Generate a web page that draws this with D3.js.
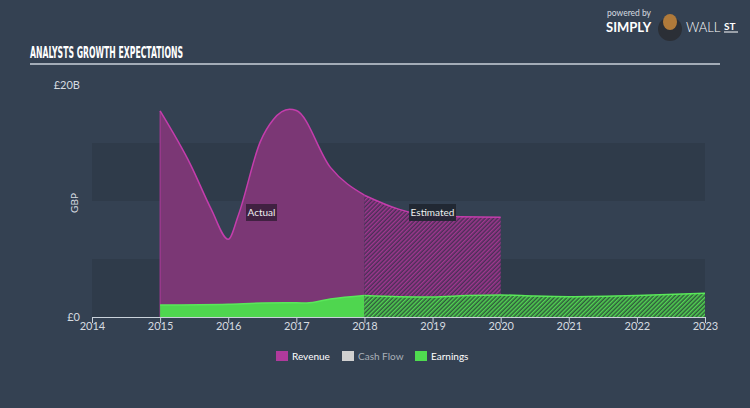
<!DOCTYPE html>
<html><head><meta charset="utf-8">
<script src="https://cdn.jsdelivr.net/npm/d3@7"></script>
<style>
html,body{margin:0;padding:0;background:#344152;}
svg{display:block;}
</style></head>
<body>
<svg id="c" width="750" height="408"></svg>
<script>
// ---- data ----
const title = "ANALYSTS GROWTH EXPECTATIONS";
const xTicks = [2014, 2015, 2016, 2017, 2018, 2019, 2020, 2021, 2022, 2023];
const yTickLabels = ["£0", "£20B"];
const yTickValues = [0, 20];
const revenueActualYears = [2015, 2015.45, 2015.75, 2016, 2016.15, 2016.47, 2016.66, 2016.9, 2017, 2017.5, 2018];
const revenueActualVals  = [17.76, 13.1, 9.3, 6.7, 8.8, 15.1, 17.0, 17.9, 17.8, 12.9, 10.5];
const revenueEstYears = [2018, 2018.5, 2019, 2020];
const revenueEstVals  = [10.5, 9.3, 8.7, 8.6];
const earningsActualYears = [2015, 2016, 2016.5, 2017, 2017.15, 2017.5, 2018];
const earningsActualVals  = [1.03, 1.1, 1.2, 1.22, 1.2, 1.55, 1.85];
const earningsEstYears = [2018, 2018.5, 2019, 2019.5, 2020, 2020.5, 2021, 2022, 2023];
const earningsEstVals  = [1.85, 1.75, 1.72, 1.85, 1.9, 1.8, 1.75, 1.85, 2.05];
const legendItems = ["Revenue", "Cash Flow", "Earnings"];
const bandValues = [5, 15];

const svg = d3.select("#c");
const x = d3.scaleLinear().domain([2014, 2023]).range([92, 705]);
const y = d3.scaleLinear().domain([0, 20]).range([317, 85]);

// defs: hatch patterns
const defs = svg.append("defs");
function hatch(id, bg, line){
  const p = defs.append("pattern").attr("id", id).attr("patternUnits","userSpaceOnUse")
    .attr("width", 3).attr("height", 3).attr("patternTransform","rotate(45)");
  p.append("rect").attr("width",3).attr("height",3).attr("fill",bg);
  p.append("rect").attr("width",1.5).attr("height",3).attr("fill",line);
}
hatch("hRev", "#4a2f57", "#a0378f");
hatch("hEarn", "#2f5a3c", "#52d452");

// background
svg.append("rect").attr("width",750).attr("height",408).attr("fill","#344152");

// bands
svg.selectAll("rect.band").data(bandValues).enter().append("rect")
  .attr("class","band")
  .attr("x", x(2014)).attr("width", x(2023)-x(2014))
  .attr("y", d => y(d)).attr("height", y(0)-y(5))
  .attr("fill", "#2f3b4a");

// title
svg.append("text").attr("x",30).attr("y",58).text(title)
  .attr("fill","#ffffff").attr("font-family","'DejaVu Sans Condensed','DejaVu Sans'")
  .attr("font-weight","bold").attr("font-size",15)
  .attr("textLength",153).attr("lengthAdjust","spacingAndGlyphs");
svg.append("line").attr("x1",30).attr("x2",720).attr("y1",64).attr("y2",64)
  .attr("stroke","#c9d1da").attr("stroke-width",1.5);

// logo
const logo = svg.append("g");
logo.append("text").attr("x",607).attr("y",16).text("powered by")
  .attr("fill","#d6dbe0").attr("font-family","Lato, sans-serif").attr("font-size",8.5);
logo.append("text").attr("x",606).attr("y",32).text("SIMPLY")
  .attr("fill","#ffffff").attr("font-family","Lato, sans-serif").attr("font-weight","bold").attr("font-size",13);
logo.append("circle").attr("cx",670).attr("cy",29).attr("r",12).attr("fill","#2b2f36");
logo.append("ellipse").attr("cx",670).attr("cy",22).attr("rx",7).attr("ry",8).attr("fill","#b07a3a");
logo.append("text").attr("x",686).attr("y",32).text("WALL")
  .attr("fill","#ffffff").attr("font-family","Lato, sans-serif").attr("font-weight",300).attr("font-size",13);
logo.append("text").attr("x",724).attr("y",30).text("ST")
  .attr("fill","#ffffff").attr("font-family","Lato, sans-serif").attr("font-weight","bold").attr("font-size",10);
logo.append("line").attr("x1",724).attr("x2",738).attr("y1",32).attr("y2",32).attr("stroke","#fff").attr("stroke-width",1);

// series
const ptsRA = revenueActualYears.map((t,i)=>[t, revenueActualVals[i]]);
const ptsRE = revenueEstYears.map((t,i)=>[t, revenueEstVals[i]]);
const ptsEA = earningsActualYears.map((t,i)=>[t, earningsActualVals[i]]);
const ptsEE = earningsEstYears.map((t,i)=>[t, earningsEstVals[i]]);

const area = d3.area().x(d=>x(d[0])).y0(y(0)).y1(d=>y(d[1])).curve(d3.curveMonotoneX);
const line = d3.line().x(d=>x(d[0])).y(d=>y(d[1])).curve(d3.curveMonotoneX);

svg.append("path").attr("d", area(ptsRA)).attr("fill","#7b3775");
svg.append("path").attr("d", area(ptsRE)).attr("fill","url(#hRev)");
svg.append("line").attr("x1",x(2015)).attr("x2",x(2015)).attr("y1",y(0)).attr("y2",y(revenueActualVals[0]))
  .attr("stroke","#b03a9c").attr("stroke-width",1);
svg.append("path").attr("d", line(ptsRA)).attr("fill","none").attr("stroke","#c43dac").attr("stroke-width",1.5);
svg.append("path").attr("d", line(ptsRE)).attr("fill","none").attr("stroke","#c43dac").attr("stroke-width",1.5);

svg.append("path").attr("d", area(ptsEA)).attr("fill","#4fd64f");
svg.append("path").attr("d", area(ptsEE)).attr("fill","url(#hEarn)");
svg.append("path").attr("d", line(ptsEA)).attr("fill","none").attr("stroke","#5ae85a").attr("stroke-width",1.5);
svg.append("path").attr("d", line(ptsEE)).attr("fill","none").attr("stroke","#5ae85a").attr("stroke-width",1.5);

// labels Actual / Estimated
function tag(cx, txt, w, bg){
  const g = svg.append("g");
  g.append("rect").attr("x", cx - w/2).attr("y",204).attr("width",w).attr("height",17)
    .attr("fill",bg).attr("opacity",0.9);
  g.append("text").attr("x",cx).attr("y",216).attr("text-anchor","middle").text(txt)
    .attr("fill","#f0f0f0").attr("font-family","Lato, sans-serif").attr("font-size",10);
}
tag(261.5, "Actual", 31, "#3a1f3c");
tag(432.5, "Estimated", 47, "#1f2630");

// x axis
const xAxis = d3.axisBottom(x).tickValues(xTicks).tickFormat(d3.format("d")).tickSize(6).tickSizeOuter(0);
const gx = svg.append("g").attr("transform",`translate(0,${y(0)})`).call(xAxis);
gx.select(".domain").attr("stroke","#c9d1da");
gx.selectAll(".tick line").attr("stroke","#c9d1da");
gx.selectAll(".tick text").attr("fill","#d6dbe0").attr("font-family","Lato, sans-serif")
  .attr("font-size",11).attr("dy","0.3em").attr("y",10);

// y labels
svg.selectAll("text.ylab").data(yTickValues).enter().append("text").attr("class","ylab")
  .attr("x",80).attr("y",d=>y(d)+4).attr("text-anchor","end")
  .text((d,i)=>yTickLabels[i])
  .attr("fill","#d6dbe0").attr("font-family","Lato, sans-serif").attr("font-size",11);
svg.append("text").attr("transform","translate(78,203) rotate(-90)").attr("text-anchor","middle")
  .text("GBP").attr("fill","#d6dbe0").attr("font-family","Lato, sans-serif").attr("font-size",10);

// legend
const legColors = ["#b03a9c", "#d0d0d0", "#4fdc4f"];
const legX = [276, 342, 415];
const legText = ["#ffffff", "#a9b0b8", "#ffffff"];
legendItems.forEach((n,i)=>{
  svg.append("rect").attr("x",legX[i]).attr("y",351).attr("width",12).attr("height",10).attr("fill",legColors[i]);
  svg.append("text").attr("x",legX[i]+16).attr("y",360).text(n)
    .attr("fill",legText[i]).attr("font-family","Lato, sans-serif").attr("font-size",10);
});
</script>
</body></html>
